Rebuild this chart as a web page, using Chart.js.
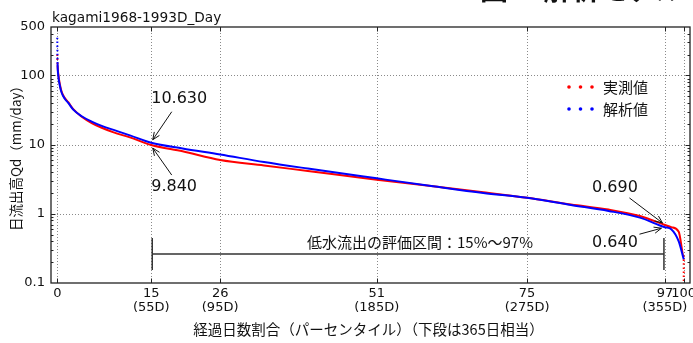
<!DOCTYPE html>
<html>
<head>
<meta charset="utf-8">
<script src="https://cdn.jsdelivr.net/npm/chart.js@4.4.1/dist/chart.umd.min.js"></script>
<style>
  html, body { margin: 0; padding: 0; background: #fff; }
  #wrap { position: relative; width: 693px; height: 343px; }
</style>
</head>
<body>
<div id="wrap"><canvas id="fdc" width="693" height="343"></canvas></div>
<script>
// flow duration curve
const pct = [0, 0.05, 0.16, 0.4, 0.7, 1.2, 1.75, 2.55, 3.9, 5.5, 7.1, 9, 11.6, 15, 20, 26, 33, 40, 51, 60, 68, 75, 82, 88, 93, 97, 98, 99.2, 100, 100];
const observed = [200, 140, 105, 75, 58, 47, 41, 32.5, 25.3, 20.5, 17.5, 15, 12.7, 9.84, 8.0, 6.0, 5.0, 4.15, 3.1, 2.5, 2.05, 1.7, 1.36, 1.15, 0.93, 0.69, 0.64, 0.55, 0.25, 0.08];
const simulated = [350, 150, 100, 72, 56, 46, 40, 32, 25.7, 21.5, 18.6, 16.3, 13.6, 10.63, 8.8, 7.2, 5.6, 4.5, 3.25, 2.5, 2.0, 1.7, 1.34, 1.1, 0.88, 0.64, 0.6, 0.4, 0.22];

const xTicks = [0, 15, 26, 51, 75, 97, 100];
const xTickDays = ['', '(55D)', '(95D)', '(185D)', '(275D)', '(355D)', ''];
const yTicks = [0.1, 1, 10, 100, 500];

const JP = '"Noto Sans CJK JP", sans-serif';
const DJ = '"DejaVu Sans", sans-serif';

function toPoints(vals) {
  return vals.map((v, i) => ({ x: pct[i], y: v }));
}

// dotted look where the markers are sparse (vertical ends)
function endDash(n) {
  return ctx => (ctx.p0DataIndex === 0 || ctx.p1DataIndex === n - 1) ? [1.5, 2.5] : undefined;
}

function arrow(ctx, x1, y1, x2, y2) {
  const a = Math.atan2(y2 - y1, x2 - x1);
  const h = 8;
  ctx.beginPath();
  ctx.moveTo(x1, y1);
  ctx.lineTo(x2, y2);
  ctx.moveTo(x2 - h * Math.cos(a - 0.4), y2 - h * Math.sin(a - 0.4));
  ctx.lineTo(x2, y2);
  ctx.lineTo(x2 - h * Math.cos(a + 0.4), y2 - h * Math.sin(a + 0.4));
  ctx.stroke();
}

const decor = {
  id: 'decor',
  beforeDatasetsDraw(chart) {
    const { ctx, chartArea: a, scales: { x, y } } = chart;
    ctx.save();
    ctx.strokeStyle = '#8a8a8a';
    ctx.lineWidth = 1;
    ctx.setLineDash([1, 2]);
    ctx.beginPath();
    xTicks.forEach(v => {
      const px = Math.round(x.getPixelForValue(v)) + 0.5;
      ctx.moveTo(px, a.top); ctx.lineTo(px, a.bottom);
    });
    [1, 10, 100].forEach(v => {
      const py = Math.round(y.getPixelForValue(v)) + 0.5;
      ctx.moveTo(a.left, py); ctx.lineTo(a.right, py);
    });
    ctx.stroke();
    ctx.restore();
  },
  afterDatasetsDraw(chart) {
    const { ctx, chartArea: a, scales: { x, y } } = chart;
    ctx.save();

    // frame
    ctx.strokeStyle = '#222';
    ctx.lineWidth = 1.3;
    ctx.strokeRect(a.left, a.top, a.right - a.left, a.bottom - a.top);

    // ticks
    ctx.lineWidth = 1;
    ctx.beginPath();
    xTicks.forEach(v => {
      const px = Math.round(x.getPixelForValue(v)) + 0.5;
      ctx.moveTo(px, a.bottom); ctx.lineTo(px, a.bottom - 4.5);
      ctx.moveTo(px, a.top); ctx.lineTo(px, a.top + 4.5);
    });
    [1, 10, 100].forEach(v => {
      const py = Math.round(y.getPixelForValue(v)) + 0.5;
      ctx.moveTo(a.left, py); ctx.lineTo(a.left + 4.5, py);
      ctx.moveTo(a.right, py); ctx.lineTo(a.right - 4.5, py);
    });
    for (let d = 0.1; d < 500; d *= 10) {
      for (let m = 2; m <= 9; m++) {
        const v = m * d;
        if (v >= 500) break;
        const py = Math.round(y.getPixelForValue(v)) + 0.5;
        ctx.moveTo(a.left, py); ctx.lineTo(a.left + 2.5, py);
        ctx.moveTo(a.right, py); ctx.lineTo(a.right - 2.5, py);
      }
    }
    ctx.stroke();

    // x tick labels, two rows
    ctx.fillStyle = '#111';
    ctx.textAlign = 'center';
    ctx.textBaseline = 'middle';
    ctx.font = '13px ' + DJ;
    xTicks.forEach((v, i) => {
      const px = x.getPixelForValue(v);
      ctx.fillText(String(v), px, a.bottom + 11);
      if (xTickDays[i]) ctx.fillText(xTickDays[i], px, a.bottom + 25);
    });

    // axis titles
    ctx.font = '14.5px ' + JP;
    ctx.fillText('経過日数割合（パーセンタイル）（下段は365日相当）', (a.left + a.right) / 2 - 2, 329);
    ctx.save();
    ctx.translate(15.5, 155);
    ctx.rotate(-Math.PI / 2);
    ctx.font = '13.5px ' + JP;
    ctx.fillText('日流出高Qd（mm/day）', 0, 0);
    ctx.restore();

    // title
    ctx.textAlign = 'left';
    ctx.textBaseline = 'alphabetic';
    ctx.font = '13.7px ' + DJ;
    ctx.fillText('kagami1968-1993D_Day', a.left + 1, 22);

    // cut-off heading at the top
    ctx.font = 'bold 28px ' + JP;
    ctx.fillText('図 9  解析モデル', 480, -0.5);

    // annotations
    ctx.strokeStyle = '#111';
    ctx.lineWidth = 1;
    const x15 = x.getPixelForValue(15);
    const x97 = x.getPixelForValue(97);
    const t1 = { x: x15 + 1.5, y: y.getPixelForValue(10.63) - 3 };
    const t2 = { x: x15 + 1.5, y: y.getPixelForValue(9.84) + 3 };
    const t3 = { x: x97 - 2.5, y: y.getPixelForValue(0.69) - 2 };
    const t4 = { x: x97 - 3.5, y: y.getPixelForValue(0.64) + 1 };
    arrow(ctx, t1.x + 19, t1.y - 28, t1.x, t1.y);
    arrow(ctx, t2.x + 19, t2.y + 27, t2.x, t2.y);
    arrow(ctx, t3.x - 33, t3.y - 25, t3.x, t3.y);
    arrow(ctx, t4.x - 22, t4.y + 6, t4.x, t4.y);

    ctx.font = '16px ' + DJ;
    ctx.textBaseline = 'middle';
    ctx.fillText('10.630', x15, 99);
    ctx.fillText('9.840', x15, 187);
    ctx.fillText('0.690', 592, 187.5);
    ctx.fillText('0.640', 592, 243);

    // evaluation range bracket
    ctx.strokeStyle = '#333';
    ctx.lineWidth = 1.5;
    ctx.beginPath();
    ctx.moveTo(x15 + 1, 254); ctx.lineTo(x97 - 1, 254);
    ctx.moveTo(x15 + 1, 238); ctx.lineTo(x15 + 1, 270);
    ctx.moveTo(x97 - 1, 238); ctx.lineTo(x97 - 1, 270);
    ctx.stroke();
    ctx.textAlign = 'center';
    ctx.font = '15px ' + JP;
    ctx.fillText('低水流出の評価区間：15%～97%', 420, 242);

    // legend
    ctx.textAlign = 'left';
    ctx.font = '15px ' + JP;
    [['実測値', '#ff0000', 87], ['解析値', '#0000ff', 109]].forEach(([txt, col, ly]) => {
      ctx.fillStyle = col;
      [569, 580.5, 592].forEach(dx => {
        ctx.beginPath();
        ctx.arc(dx, ly, 1.8, 0, Math.PI * 2);
        ctx.fill();
      });
      ctx.fillStyle = '#111';
      ctx.fillText(txt, 603, ly);
    });

    ctx.restore();
  }
};

new Chart(document.getElementById('fdc'), {
  type: 'scatter',
  data: {
    datasets: [
      {
        label: '実測値',
        data: toPoints(observed),
        showLine: true,
        borderColor: '#ff0000',
        borderWidth: 2,
        pointRadius: 0,
        cubicInterpolationMode: 'monotone',
        order: 2,
        segment: { borderDash: endDash(observed.length) }
      },
      {
        label: '解析値',
        data: toPoints(simulated),
        showLine: true,
        borderColor: '#0000ff',
        borderWidth: 2,
        pointRadius: 0,
        cubicInterpolationMode: 'monotone',
        order: 1,
        segment: { borderDash: ctx => ctx.p0DataIndex === 0 ? [1.5, 2.5] : undefined }
      }
    ]
  },
  options: {
    responsive: false,
    animation: false,
    layout: { padding: { top: 27, right: 3, left: 0, bottom: 0 } },
    plugins: { legend: { display: false }, tooltip: { enabled: false } },
    scales: {
      x: {
        type: 'linear',
        min: -1,
        max: 101,
        grid: { display: false, drawTicks: false },
        border: { display: false },
        ticks: { display: false },
        afterFit(s) { s.height = 60; }
      },
      y: {
        type: 'logarithmic',
        min: 0.1,
        max: 500,
        grid: { display: false, drawTicks: false },
        border: { display: false },
        afterBuildTicks(s) { s.ticks = yTicks.map(v => ({ value: v })); },
        ticks: {
          color: '#111',
          padding: 6,
          font: { family: '"DejaVu Sans"', size: 13 },
          callback: v => String(v)
        },
        afterFit(s) { s.width = 51; }
      }
    }
  },
  plugins: [decor]
});
</script>
</body>
</html>
